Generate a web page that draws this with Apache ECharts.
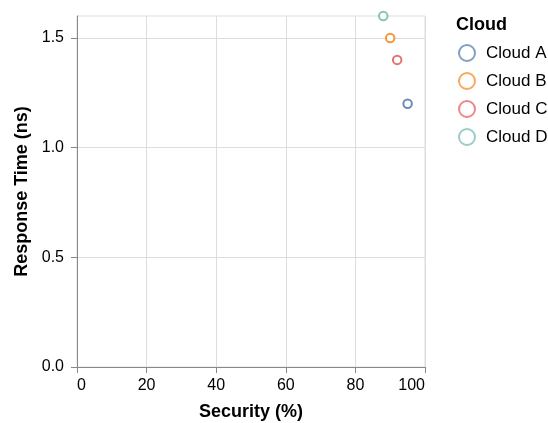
<!DOCTYPE html>
<html>
<head>
<meta charset="utf-8">
<script src="https://cdn.jsdelivr.net/npm/echarts@6/dist/echarts.min.js"></script>
<style>html,body{margin:0;padding:0;background:#fff}#c{width:548px;height:423px}</style>
</head>
<body>
<div id="c"></div>
<script>
const clouds = ['Cloud A', 'Cloud B', 'Cloud C', 'Cloud D'];
const security = [95, 90, 92, 88];
const responseTime = [1.2, 1.5, 1.4, 1.6];
const colors = ['#4c78a8', '#f58518', '#e45756', '#72b7b2'];
const xTicks = [0, 20, 40, 60, 80, 100];
const yTicks = [0, 0.5, 1.0, 1.5];

const FONT = 'Liberation Sans, Arial, sans-serif';
const chart = echarts.init(document.getElementById('c'), null, {renderer: 'canvas'});

const series = clouds.map((name, i) => ({
  name: name,
  type: 'scatter',
  symbol: 'emptyCircle',
  symbolSize: 8.5,
  itemStyle: {color: colors[i], borderColor: colors[i], borderWidth: 2.8, opacity: 0.85},
  data: [[security[i], responseTime[i]]],
  z: 3
}));

chart.setOption({
  animation: false,
  color: colors,
  grid: {left: 77, right: 123, top: 16, bottom: 56, show: true, borderColor: '#ddd', borderWidth: 1,
    containLabel: false, outerBoundsMode: 'none'},
  title: {
    text: 'Cloud', left: 456, top: 16, padding: 0,
    textStyle: {fontFamily: FONT, fontSize: 18, fontWeight: 'bold', color: '#000'}
  },
  legend: {
    orient: 'vertical', left: 458, top: 44, padding: 0,
    itemWidth: 16, itemHeight: 16, itemGap: 10,
    icon: 'emptyCircle',
    itemStyle: {borderWidth: 2, opacity: 0.7},
    textStyle: {fontFamily: FONT, fontSize: 17, lineHeight: 16, color: '#000', padding: [0, 0, 0, 6]},
    data: clouds
  },
  xAxis: {
    type: 'value', min: 0, max: 100, interval: 20,
    name: 'Security (%)', nameLocation: 'middle', nameGap: 36,
    nameTextStyle: {fontFamily: FONT, fontSize: 18, fontWeight: 'bold', color: '#000'},
    axisLine: {show: true, onZero: false, lineStyle: {color: '#888', width: 1}},
    axisTick: {show: true, length: 6, lineStyle: {color: '#888'}, customValues: xTicks},
    axisLabel: {fontFamily: FONT, fontSize: 16, color: '#000', margin: 11, customValues: xTicks,
      alignMinLabel: 'left', alignMaxLabel: 'right'},
    splitLine: {show: true, lineStyle: {color: '#ddd', width: 1}}
  },
  yAxis: {
    type: 'value', min: 0, max: 1.6, interval: 0.5,
    name: 'Response Time (ns)', nameLocation: 'middle', nameGap: 45,
    nameTextStyle: {fontFamily: FONT, fontSize: 18, fontWeight: 'bold', color: '#000'},
    axisLine: {show: true, onZero: false, lineStyle: {color: '#888', width: 1}},
    axisTick: {show: true, length: 6, lineStyle: {color: '#888'}, customValues: yTicks},
    axisLabel: {fontFamily: FONT, fontSize: 16, color: '#000', margin: 13, customValues: yTicks,
      formatter: v => v.toFixed(1)},
    splitLine: {show: true, lineStyle: {color: '#ddd', width: 1}}
  },
  series: series
});
</script>
</body>
</html>
